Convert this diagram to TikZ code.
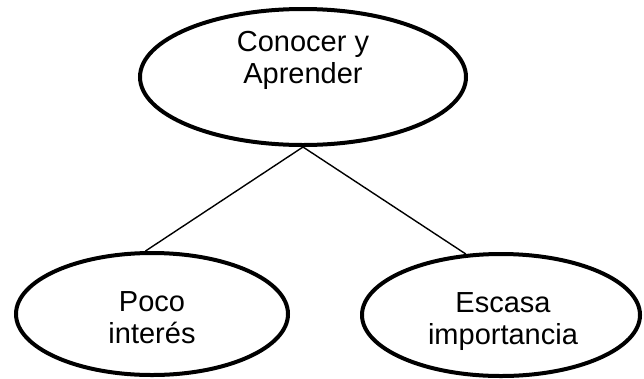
\documentclass[tikz,border=0pt]{standalone}
\usepackage{fontspec}
\setmainfont{Liberation Sans}
\usetikzlibrary{shapes.geometric}
\begin{document}
\begin{tikzpicture}[x=1pt,y=-1pt,
  ell/.style={draw=black, line width=4pt, ellipse, inner sep=0pt},
  txt/.style={align=center, inner sep=0pt, font=\fontsize{29}{32}\selectfont},
  conn/.style={draw=black, line width=1.4pt}]
\useasboundingbox (0,0) rectangle (644,378);
\node[ell, minimum width=326pt, minimum height=136pt] (top) at (303,77) {};
\node[ell, minimum width=272pt, minimum height=122pt] (left) at (152,314) {};
\node[ell, minimum width=278pt, minimum height=122pt] (right) at (501,315) {};
\node[txt] (toptext) at (303,60) {Conocer y\\Aprender};
\node[txt] (lefttext) at (152,318) {Poco\\interés};
\node[txt] (righttext) at (503,322) {Escasa\\importancia};
\draw[conn] (top.south) -- (left.96);
\draw[conn] (top.south) -- (right.120);
\end{tikzpicture}
\end{document}
